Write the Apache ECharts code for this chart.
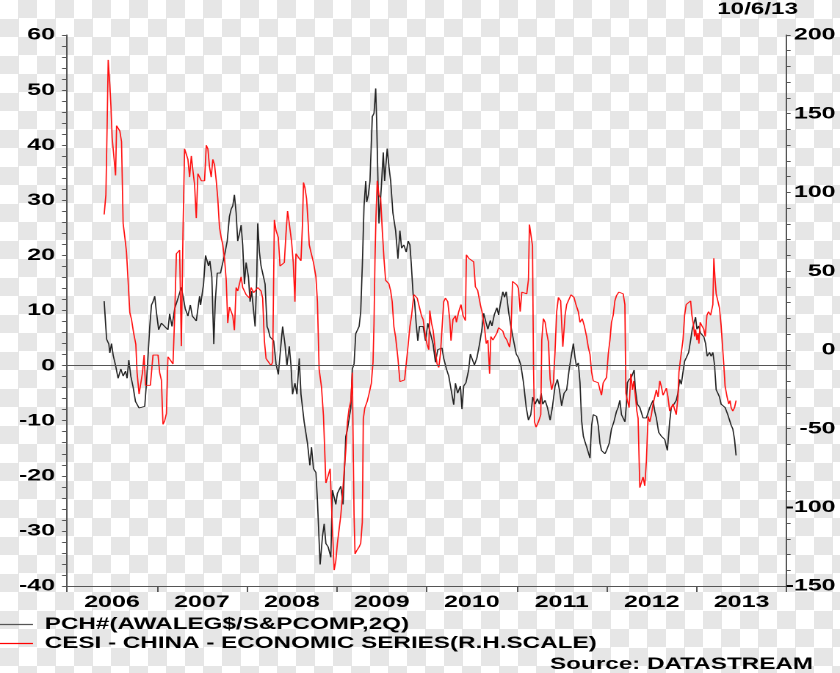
<!DOCTYPE html>
<html>
<head>
<meta charset="utf-8">
<script src="https://cdn.jsdelivr.net/npm/echarts@6/dist/echarts.min.js"></script>
<style>
html,body{margin:0;padding:0;}
body{width:840px;height:673px;overflow:hidden;position:relative;background-color:#fff;
background-image:conic-gradient(#e6e6e6 0 25%, #ffffff 0 50%, #e6e6e6 0 75%, #ffffff 0);
background-size:37px 37px;}
#chart{position:absolute;left:0;top:0;width:572px;height:673px;transform:scaleX(1.468531);transform-origin:0 0;}
</style>
</head>
<body>
<div id="chart"></div>
<script>
// ---- data ----
const yearLabels = ['2006','2007','2008','2009','2010','2011','2012','2013'];
const leftTicks = {min:-40, max:60, step:10};
const rightTicks = {min:-150, max:200, step:50};
const blackName = 'PCH#(AWALEG$/S&PCOMP,2Q)';
const redName = 'CESI - CHINA - ECONOMIC SERIES(R.H.SCALE)';
const dateLabel = '10/6/13';
const sourceLabel = 'Source: DATASTREAM';

// [decimal year, value] - left scale
const blackSeries = [[2006.413,11.7],[2006.440,4.8],[2006.465,3.9],[2006.476,2.3],[2006.495,4.0],[2006.513,1.9],[2006.540,0],[2006.568,-2.3],[2006.598,-0.6],[2006.624,-1.9],[2006.650,-1.0],[2006.668,-2.3],[2006.687,1.0],[2006.709,-1.9],[2006.735,-3.9],[2006.761,-6.5],[2006.783,-6.8],[2006.801,-7.7],[2006.864,-7.4],[2006.883,-3.2],[2006.901,1.9],[2006.920,7.1],[2006.939,11.0],[2006.956,11.6],[2006.975,12.6],[2006.994,9.7],[2007.019,6.5],[2007.049,7.7],[2007.086,7.1],[2007.122,6.5],[2007.141,9.4],[2007.167,7.1],[2007.197,10.3],[2007.241,12.6],[2007.271,14.2],[2007.315,10.3],[2007.344,9.0],[2007.371,11.0],[2007.393,9.0],[2007.437,8.1],[2007.474,12.6],[2007.485,11.0],[2007.518,14.8],[2007.540,20.0],[2007.559,20.0],[2007.573,18.1],[2007.588,19.0],[2007.610,16.1],[2007.625,7.7],[2007.632,3.9],[2007.648,11.6],[2007.670,16.8],[2007.706,16.8],[2007.732,18.7],[2007.758,20.6],[2007.781,22.6],[2007.806,27.1],[2007.825,28.4],[2007.843,29.0],[2007.861,31.0],[2007.880,27.7],[2007.898,22.6],[2007.917,23.9],[2007.936,25.5],[2007.953,21.9],[2007.972,14.8],[2007.991,18.7],[2008.017,16.1],[2008.035,11.6],[2008.053,13.5],[2008.091,7.1],[2008.109,15.5],[2008.120,25.8],[2008.139,20.6],[2008.157,18.1],[2008.202,14.8],[2008.224,7.1],[2008.238,6.5],[2008.257,5.2],[2008.297,4.5],[2008.324,0.3],[2008.349,-1.6],[2008.379,3.9],[2008.397,7.1],[2008.423,3.9],[2008.445,0],[2008.471,3.5],[2008.490,0],[2008.507,-5.2],[2008.534,-3.2],[2008.556,-5.2],[2008.582,1.3],[2008.601,-5.2],[2008.637,-10.3],[2008.674,-14.2],[2008.700,-18.1],[2008.718,-14.8],[2008.740,-18.7],[2008.767,-19.4],[2008.784,-24.5],[2008.814,-36.1],[2008.840,-31.0],[2008.859,-28.7],[2008.878,-32.3],[2008.903,-32.9],[2008.933,-34.8],[2008.951,-22.6],[2008.970,-23.9],[2008.988,-25.2],[2009.006,-23.2],[2009.044,-21.9],[2009.069,-25.2],[2009.099,-12.9],[2009.117,-11.6],[2009.155,-7.7],[2009.172,-0.6],[2009.191,0.3],[2009.210,5.8],[2009.247,7.1],[2009.265,9.7],[2009.283,18.1],[2009.302,29.0],[2009.321,33.5],[2009.332,29.7],[2009.350,31.0],[2009.368,33.5],[2009.394,45.2],[2009.413,45.8],[2009.432,50.3],[2009.443,43.9],[2009.457,33.5],[2009.468,25.8],[2009.494,32.3],[2009.516,38.7],[2009.531,33.5],[2009.560,39.4],[2009.579,36.1],[2009.598,33.5],[2009.623,27.7],[2009.653,24.5],[2009.679,19.4],[2009.701,24.5],[2009.720,21.3],[2009.745,21.9],[2009.771,20.6],[2009.793,22.6],[2009.812,21.9],[2009.826,18.7],[2009.848,12.9],[2009.864,11.6],[2009.881,7.7],[2009.900,4.5],[2009.919,7.1],[2009.959,7.1],[2009.986,4.5],[2010.011,7.7],[2010.041,5.8],[2010.070,3.9],[2010.096,0.6],[2010.122,2.9],[2010.144,2.6],[2010.169,3.2],[2010.188,1.3],[2010.218,-0.6],[2010.244,-1.9],[2010.299,-7.1],[2010.318,-3.2],[2010.343,-5.0],[2010.373,-3.7],[2010.391,-7.9],[2010.410,-3.7],[2010.435,-3.1],[2010.465,-0.8],[2010.484,2.1],[2010.529,0.1],[2010.557,1.4],[2010.587,4.0],[2010.613,6.6],[2010.632,9.5],[2010.657,7.9],[2010.679,6.6],[2010.706,8.2],[2010.724,7.2],[2010.750,9.2],[2010.779,10.5],[2010.798,9.2],[2010.817,11.1],[2010.845,13.4],[2010.864,12.4],[2010.883,13.4],[2010.909,9.8],[2010.934,7.2],[2010.964,4.6],[2010.994,2.1],[2011.019,1.4],[2011.045,0.1],[2011.075,-3.1],[2011.105,-7.6],[2011.130,-9.9],[2011.156,-8.9],[2011.178,-5.7],[2011.204,-7.0],[2011.230,-6.0],[2011.252,-7.0],[2011.271,-5.0],[2011.289,-7.0],[2011.315,-6.3],[2011.341,-7.6],[2011.371,-9.9],[2011.396,-7.6],[2011.426,-3.7],[2011.452,-2.5],[2011.474,-4.4],[2011.499,-7.3],[2011.526,-5.0],[2011.555,-4.4],[2011.584,-0.5],[2011.610,2.1],[2011.629,4.0],[2011.648,1.4],[2011.665,-0.2],[2011.684,0.5],[2011.703,-3.1],[2011.721,-10.0],[2011.740,-12.8],[2011.758,-13.8],[2011.776,-14.7],[2011.795,-15.0],[2011.814,-16.8],[2011.832,-10.9],[2011.850,-8.9],[2011.887,-9.2],[2011.906,-10.9],[2011.925,-14.1],[2011.942,-15.4],[2011.980,-16.0],[2011.998,-15.4],[2012.028,-14.1],[2012.053,-11.5],[2012.080,-10.2],[2012.109,-8.3],[2012.127,-7.6],[2012.146,-6.3],[2012.164,-8.9],[2012.202,-10.2],[2012.219,-7.0],[2012.230,-3.1],[2012.246,-2.6],[2012.275,-2.1],[2012.305,-0.8],[2012.319,-4.4],[2012.341,-7.0],[2012.368,-7.6],[2012.404,-9.5],[2012.441,-9.5],[2012.479,-7.6],[2012.515,-6.3],[2012.534,-8.3],[2012.552,-9.5],[2012.578,-12.1],[2012.607,-12.8],[2012.645,-13.4],[2012.674,-15.4],[2012.700,-10.2],[2012.718,-7.6],[2012.748,-7.0],[2012.773,-6.3],[2012.792,-5.0],[2012.811,-2.5],[2012.829,-3.4],[2012.848,-1.2],[2012.866,0.8],[2012.884,1.4],[2012.911,2.4],[2012.933,4.6],[2012.951,6.6],[2012.970,6.3],[2012.988,8.8],[2013.003,6.6],[2013.022,7.2],[2013.044,5.9],[2013.062,5.6],[2013.080,5.2],[2013.099,4.0],[2013.117,1.7],[2013.143,2.4],[2013.161,1.7],[2013.180,2.4],[2013.199,0.1],[2013.217,-4.4],[2013.235,-5.0],[2013.254,-5.7],[2013.272,-7.0],[2013.316,-7.6],[2013.346,-8.9],[2013.383,-10.8],[2013.402,-11.5],[2013.421,-13.4],[2013.438,-16.3]];

// [decimal year, value] - right scale
const redSeries = [[2006.413,86],[2006.432,98.4],[2006.447,145.8],[2006.458,184.2],[2006.476,168.4],[2006.488,154.8],[2006.502,134.5],[2006.524,121],[2006.540,110.8],[2006.551,142.4],[2006.568,143.5],[2006.587,139],[2006.606,132.2],[2006.624,80.3],[2006.643,71.3],[2006.661,62.2],[2006.679,44.2],[2006.698,23.8],[2006.717,19.3],[2006.742,10.3],[2006.765,3.5],[2006.779,-14.5],[2006.801,-28.1],[2006.820,-21.3],[2006.839,-14.5],[2006.857,-3.3],[2006.872,-22.5],[2006.901,-23.6],[2006.927,-22.5],[2006.956,-3.3],[2007.012,-3.3],[2007.030,-14.5],[2007.049,-19.1],[2007.067,-47.3],[2007.086,-45],[2007.105,-40.5],[2007.122,-4.4],[2007.152,-6.7],[2007.178,-9],[2007.197,21.6],[2007.216,61.1],[2007.233,62.2],[2007.252,63.4],[2007.271,2.4],[2007.289,73.5],[2007.307,127.7],[2007.326,128.9],[2007.344,121],[2007.363,109.7],[2007.382,123.2],[2007.399,114.2],[2007.418,105.1],[2007.437,83.7],[2007.455,111.9],[2007.474,109.7],[2007.493,107.4],[2007.510,108.5],[2007.529,107.4],[2007.548,130],[2007.566,127.7],[2007.584,116.4],[2007.603,109.7],[2007.621,121],[2007.640,117.6],[2007.659,107.4],[2007.676,96.1],[2007.695,78],[2007.714,71.3],[2007.732,66.7],[2007.751,57.7],[2007.770,44.2],[2007.787,17],[2007.806,27.2],[2007.843,21.6],[2007.861,12.5],[2007.880,39.6],[2007.898,37.4],[2007.917,41.9],[2007.936,46.4],[2007.953,39.6],[2007.991,35.1],[2008.028,32.9],[2008.047,39.6],[2008.075,36.3],[2008.102,35.1],[2008.120,39.6],[2008.157,37.4],[2008.175,32.9],[2008.194,5.8],[2008.213,-5.5],[2008.268,-10],[2008.286,-7.8],[2008.305,82.6],[2008.324,75.8],[2008.349,71.3],[2008.368,53.2],[2008.397,52.1],[2008.416,55.5],[2008.434,73.5],[2008.452,88.2],[2008.471,80.3],[2008.496,69],[2008.515,55.5],[2008.534,30.6],[2008.545,61.1],[2008.571,58.9],[2008.601,56.6],[2008.618,80.3],[2008.629,106.3],[2008.645,102.9],[2008.663,96.1],[2008.681,80.3],[2008.693,66.7],[2008.711,62.2],[2008.740,55.5],[2008.767,46.4],[2008.784,30.6],[2008.803,-12.3],[2008.829,-23.6],[2008.851,-41.7],[2008.878,-84.6],[2008.903,-80],[2008.925,-75.5],[2008.951,-113.9],[2008.970,-139.9],[2008.988,-134.2],[2009.006,-122.9],[2009.025,-113.9],[2009.044,-104.9],[2009.061,-93.6],[2009.080,-77.8],[2009.099,-64.2],[2009.117,-46.2],[2009.136,-37.1],[2009.155,-32.6],[2009.172,-14.5],[2009.183,-68.8],[2009.191,-104.9],[2009.202,-129.7],[2009.221,-127.5],[2009.247,-125.2],[2009.265,-122.9],[2009.283,-109.4],[2009.294,-43.9],[2009.310,-37.1],[2009.338,-32.6],[2009.357,-28.1],[2009.383,-21.3],[2009.402,-7.8],[2009.413,17],[2009.424,57.7],[2009.435,84.8],[2009.449,107.4],[2009.468,98.4],[2009.487,96.1],[2009.505,75.8],[2009.524,57.7],[2009.542,44.2],[2009.579,41.9],[2009.598,37.4],[2009.615,30.6],[2009.634,14.8],[2009.653,8.1],[2009.679,-5.5],[2009.701,-20.2],[2009.753,-19.1],[2009.775,-18],[2009.793,3.5],[2009.812,14.8],[2009.830,21.6],[2009.856,35.1],[2009.875,35.1],[2009.893,32.9],[2009.922,32.9],[2009.941,21.6],[2009.959,19.3],[2009.986,8.1],[2010.003,3.5],[2010.022,0.1],[2010.033,25],[2010.052,17],[2010.070,12.5],[2010.096,-1],[2010.114,-8.9],[2010.133,-11.2],[2010.152,-2.1],[2010.169,-1],[2010.188,30.6],[2010.207,32.9],[2010.233,30.6],[2010.255,19.3],[2010.269,5.8],[2010.291,19.3],[2010.318,21.6],[2010.329,17.5],[2010.355,24.3],[2010.380,28.8],[2010.402,22],[2010.429,18.6],[2010.440,60.4],[2010.465,58.2],[2010.491,57],[2010.521,55.9],[2010.540,40.1],[2010.565,37.8],[2010.595,28.8],[2010.613,24.3],[2010.639,15.3],[2010.661,4],[2010.679,6.2],[2010.698,-15.2],[2010.712,8.5],[2010.735,6.2],[2010.761,5.1],[2010.779,10.7],[2010.798,14.1],[2010.817,13],[2010.845,11.9],[2010.864,8.5],[2010.890,6.2],[2010.920,1.7],[2010.934,8.5],[2010.953,43.5],[2010.975,42.3],[2011.001,41.2],[2011.019,39],[2011.038,24.3],[2011.056,36.7],[2011.082,35.6],[2011.111,35.6],[2011.130,44.6],[2011.141,79.6],[2011.156,78.5],[2011.175,66.1],[2011.186,-9.6],[2011.197,-45.7],[2011.215,-49.1],[2011.241,-45.7],[2011.267,-41.2],[2011.278,6.2],[2011.296,19.8],[2011.315,17.5],[2011.333,10.7],[2011.352,5.1],[2011.371,-18.6],[2011.388,-25.4],[2011.407,-20.9],[2011.426,-0.5],[2011.444,24.3],[2011.463,33.3],[2011.488,31.1],[2011.499,17.5],[2011.512,2],[2011.537,22],[2011.555,28.8],[2011.573,31.1],[2011.603,35],[2011.636,33.3],[2011.658,28.8],[2011.684,24.3],[2011.703,17.5],[2011.728,19.8],[2011.751,15.3],[2011.776,8.5],[2011.795,1.7],[2011.814,-2.8],[2011.832,-14.1],[2011.850,-19.7],[2011.880,-19.7],[2011.906,-20.9],[2011.925,-25.4],[2011.942,-28.8],[2011.961,-20.9],[2011.998,-17.5],[2012.017,-2.8],[2012.036,6.2],[2012.053,17.5],[2012.072,22],[2012.091,31.1],[2012.109,34.5],[2012.135,36.7],[2012.164,37.8],[2012.183,35.6],[2012.202,28.8],[2012.213,-27.7],[2012.230,-32.2],[2012.249,-36.7],[2012.268,-15.2],[2012.286,-25.4],[2012.301,-19.7],[2012.324,-32.2],[2012.335,-38.9],[2012.349,-43.5],[2012.368,-87.5],[2012.386,-84.1],[2012.404,-80.7],[2012.423,-86.4],[2012.441,-70.6],[2012.460,-42.3],[2012.479,-45.7],[2012.497,-41.2],[2012.515,-34.4],[2012.552,-25.4],[2012.571,-29.9],[2012.590,-19.7],[2012.607,-23.1],[2012.626,-28.8],[2012.645,-27.7],[2012.663,-24.3],[2012.681,-29.9],[2012.700,-38.9],[2012.718,-37.8],[2012.737,-34.4],[2012.773,-41.2],[2012.792,-29.9],[2012.803,-14.1],[2012.822,-5.1],[2012.848,6.2],[2012.866,22],[2012.884,28.8],[2012.911,29.9],[2012.933,31.1],[2012.947,22],[2012.966,15.3],[2012.977,8.5],[2012.988,13],[2013.003,6.2],[2013.014,10.7],[2013.025,4],[2013.039,17.5],[2013.058,15.3],[2013.080,13],[2013.095,8.5],[2013.114,22],[2013.132,24.3],[2013.155,22],[2013.180,28.8],[2013.191,58.2],[2013.205,44.6],[2013.217,35.6],[2013.235,35.6],[2013.254,26.5],[2013.272,15.3],[2013.291,-0.6],[2013.302,-9.6],[2013.316,-23.1],[2013.338,-29.9],[2013.357,-34.4],[2013.371,-32.2],[2013.383,-36.7],[2013.402,-38.9],[2013.421,-36.7],[2013.438,-32.2]];

// ---- chart ----
const S = 840 / 572;             // horizontal stretch of the original graphic
const FONT = 'Liberation Sans, Arial, Helvetica, sans-serif';
const FS = 17;
const axisColor = '#555';
const txt = {fontFamily: FONT, fontWeight: 'bold', fontSize: FS, color: '#000'};

const chart = echarts.init(document.getElementById('chart'), null, {renderer: 'canvas', devicePixelRatio: 2});
chart.setOption({
  animation: false,
  backgroundColor: 'transparent',
  title: [
    {text: dateLabel, right: 42 / S, top: 1, padding: 0, textStyle: Object.assign({}, txt, {fontSize: 16.5})},
    {text: sourceLabel, right: 27 / S, top: 656, padding: 0, textStyle: Object.assign({}, txt, {fontSize: 16.5})}
  ],
  legend: {
    orient: 'vertical', left: 0, top: 610, padding: 0,
    itemWidth: 33 / S, itemHeight: 1.3, icon: 'rect', itemGap: -10,
    textStyle: Object.assign({}, txt, {fontSize: 16.5, lineHeight: 17, padding: [0, 0, 12, 3]}),
    data: [{name: blackName, itemStyle: {color: '#555'}}, {name: redName, itemStyle: {color: '#ff0000'}}]
  },
  grid: {left: 67 / S, right: 572 - 790 / S, top: 35, bottom: 87, containLabel: false},
  xAxis: [
    {
      type: 'category', data: yearLabels, boundaryGap: true, position: 'bottom',
      axisLine: {show: true, onZero: false, lineStyle: {color: axisColor, width: 1}},
      axisTick: {show: true, interval: 0, length: 6, lineStyle: {color: axisColor, width: 1}},
      axisLabel: Object.assign({}, txt, {interval: 0, margin: 8}),
      splitLine: {show: false}
    },
    {type: 'value', min: 2006, max: 2014, show: false, position: 'bottom',
     axisLine: {show: false, onZero: false}, axisTick: {show: false}, axisLabel: {show: false}, splitLine: {show: false}}
  ],
  yAxis: [
    {
      type: 'value', position: 'left', min: leftTicks.min, max: leftTicks.max, interval: leftTicks.step,
      axisLine: {show: true, onZero: false, lineStyle: {color: axisColor, width: 1}},
      axisTick: {show: true, length: 5 / S, lineStyle: {color: axisColor, width: 1}},
      minorTick: {show: true, splitNumber: 5, length: 5 / S, lineStyle: {color: axisColor, width: 1}},
      axisLabel: Object.assign({}, txt, {margin: 12 / S, padding: [0, 0, 14, 0]}),
      splitLine: {show: false}
    },
    {
      type: 'value', position: 'right', min: rightTicks.min, max: rightTicks.max, interval: rightTicks.step,
      axisLine: {show: true, onZero: false, lineStyle: {color: axisColor, width: 1}},
      axisTick: {show: true, length: 4 / S, lineStyle: {color: axisColor, width: 1}},
      minorTick: {show: true, splitNumber: 5, length: 4 / S, lineStyle: {color: axisColor, width: 1}},
      axisLabel: Object.assign({}, txt, {margin: 49 / S, align: 'right', padding: [0, 0, 14, 0]}),
      splitLine: {show: false}
    }
  ],
  series: [
    {
      name: blackName, type: 'line', xAxisIndex: 1, yAxisIndex: 0, data: blackSeries,
      symbol: 'none', showSymbol: false, smooth: false,
      lineStyle: {color: '#222', width: 0.85}, itemStyle: {color: '#222'},
      markLine: {
        silent: true, symbol: ['none', 'none'], label: {show: false},
        lineStyle: {color: '#555', width: 1, type: 'solid'},
        data: [{yAxis: 0}]
      },
      z: 2
    },
    {
      name: redName, type: 'line', xAxisIndex: 1, yAxisIndex: 1, data: redSeries,
      symbol: 'none', showSymbol: false, smooth: false,
      lineStyle: {color: '#ff1010', width: 0.85}, itemStyle: {color: '#ff1010'},
      z: 3
    }
  ]
});
</script>
</body>
</html>
